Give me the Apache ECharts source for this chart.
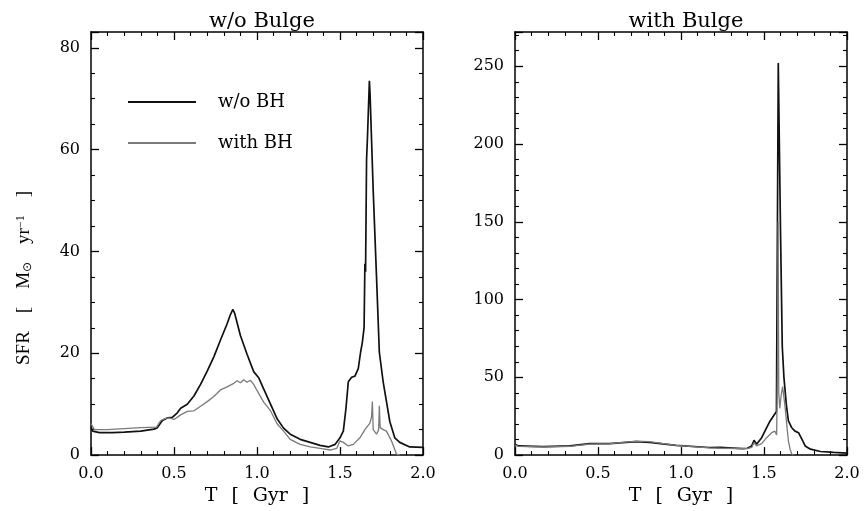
<!DOCTYPE html>
<html>
<head>
<meta charset="utf-8">
<script src="https://cdn.jsdelivr.net/npm/echarts@6/dist/echarts.min.js"></script>
<style>html,body{margin:0;padding:0;background:#fff}#c{width:866px;height:511px}</style>
</head>
<body>
<div id="c"></div>
<script>
// ---- Data ----
const panelTitles = ['w/o Bulge', 'with Bulge'];
const seriesNames = ['w/o BH', 'with BH'];
const xTicks = [0.0, 0.5, 1.0, 1.5, 2.0];

// Left panel, w/o BH (black)
const leftNoBH_T = [0.00,0.01,0.05,0.13,0.20,0.30,0.38,0.40,0.43,0.46,0.49,0.52,0.54,0.58,0.62,0.66,0.70,0.74,0.78,0.82,0.84,0.855,0.865,0.875,0.90,0.94,0.98,1.01,1.04,1.08,1.12,1.16,1.20,1.26,1.32,1.38,1.43,1.47,1.50,1.52,1.536,1.55,1.57,1.59,1.61,1.624,1.634,1.645,1.650,1.654,1.660,1.665,1.677,1.681,1.70,1.72,1.737,1.76,1.78,1.80,1.83,1.86,1.92,2.00];
const leftNoBH_V = [5.6,4.7,4.4,4.4,4.5,4.7,5.1,5.4,6.8,7.3,7.4,8.3,9.2,10.0,11.6,13.9,16.5,19.3,22.6,25.8,27.6,28.6,27.9,28.2,23.5,19.8,16.4,15.2,13.0,10.1,7.2,5.3,4.1,3.1,2.5,1.9,1.6,2.1,3.4,4.7,9.2,14.4,15.3,15.5,17.0,20.2,22.0,25.0,37.6,36.0,58.0,62.0,73.5,71.0,52.0,35.0,20.2,14.4,10.5,6.6,3.4,2.5,1.6,1.5];

// Left panel, with BH (grey)
const leftBH_T = [0.00,0.02,0.10,0.20,0.30,0.395,0.42,0.45,0.47,0.50,0.54,0.58,0.62,0.66,0.70,0.74,0.78,0.82,0.86,0.88,0.90,0.92,0.94,0.96,0.98,1.00,1.04,1.08,1.12,1.16,1.20,1.26,1.32,1.38,1.44,1.48,1.50,1.52,1.55,1.58,1.62,1.65,1.68,1.690,1.695,1.700,1.72,1.733,1.737,1.742,1.76,1.78,1.81,1.84,1.86];
const leftBH_V = [6.2,5.0,5.0,5.2,5.4,5.5,6.8,7.2,7.3,7.0,7.9,8.6,8.7,9.6,10.5,11.5,12.8,13.4,14.1,14.6,14.2,14.8,14.3,14.7,13.9,12.7,10.4,8.8,6.2,4.7,3.1,2.1,1.6,1.3,1.0,1.3,2.8,2.5,1.8,2.1,3.4,5.0,6.3,7.5,10.5,5.0,4.1,5.0,9.7,5.4,5.0,4.7,2.8,0.2,0.0];

// Right panel, w/o BH (black)
const rightNoBH_T = [0.00,0.02,0.17,0.33,0.45,0.57,0.73,0.81,0.97,1.17,1.235,1.37,1.40,1.426,1.44,1.455,1.486,1.516,1.536,1.562,1.575,1.586,1.600,1.610,1.620,1.635,1.647,1.667,1.687,1.708,1.728,1.748,1.78,1.84,1.92,2.00];
const rightNoBH_V = [7.0,5.9,5.5,5.9,7.4,7.4,8.7,8.2,6.3,4.9,5.0,4.2,4.4,5.9,9.5,7.0,11.2,17.6,21.8,26.0,28.0,252.0,140.0,70.0,50.0,32.0,22.0,17.6,15.4,14.4,10.2,5.9,3.8,2.3,1.7,1.3];

// Right panel, with BH (grey)
const rightBH_T = [0.00,0.02,0.17,0.33,0.45,0.57,0.73,0.81,0.97,1.17,1.235,1.40,1.426,1.44,1.455,1.486,1.516,1.546,1.566,1.576,1.582,1.585,1.589,1.595,1.603,1.612,1.626,1.637,1.647,1.657,1.667,1.675];
const rightBH_V = [6.5,5.6,5.2,5.6,7.0,7.4,9.0,8.6,6.2,4.7,4.4,4.2,4.9,8.0,5.9,7.4,11.2,14.4,15.4,12.9,60.0,150.0,40.0,30.0,38.0,44.0,32.0,19.7,9.1,3.8,0.8,0.0];

// ---- Build ----
const zip = (t, v) => t.map((x, i) => [x, v[i]]);
const FONT = '"DejaVu Serif", serif';
const BLACK = '#111111', GREY = '#7a7a7a';

const grids = [
  {left: 91, top: 32, width: 332, height: 429},
  {left: 515, top: 32, width: 332, height: 429}
];

function xAx(g, pos) {
  const main = pos === 'bottom';
  return {
    gridIndex: g, type: 'value', position: pos, min: 0, max: 2, interval: 0.5,
    axisLine: {onZero: false, lineStyle: {color: '#000', width: 1.5}},
    axisTick: {inside: true, length: 8, lineStyle: {color: '#000', width: 1.3}},
    minorTick: {show: true, splitNumber: 5, length: 4, lineStyle: {color: '#000', width: 1.1}},
    splitLine: {show: false},
    axisLabel: {show: main, margin: 11, fontFamily: FONT, fontSize: 16, color: '#000',
      formatter: v => (xTicks.indexOf(v) >= 0 ? v.toFixed(1) : '')},
    name: main ? '{a|T}{g| }{a|[}{g| }{a|Gyr}{g| }{a|]}' : '',
    nameLocation: 'middle', nameGap: 29,
    nameTextStyle: {rich: {
      a: {fontFamily: FONT, fontSize: 19, color: '#000'},
      g: {fontFamily: FONT, fontSize: 19, width: 14}
    }}
  };
}
function yAx(g, pos, max, interval, split) {
  const main = pos === 'left';
  return {
    gridIndex: g, type: 'value', position: pos, min: 0, max: max, interval: interval,
    axisLine: {onZero: false, lineStyle: {color: '#000', width: 1.5}},
    axisTick: {inside: true, length: 8, lineStyle: {color: '#000', width: 1.3}},
    minorTick: {show: true, splitNumber: split, length: 4, lineStyle: {color: '#000', width: 1.1}},
    splitLine: {show: false},
    axisLabel: {show: main, margin: 11, fontFamily: FONT, fontSize: 16, color: '#000',
      showMaxLabel: false, formatter: v => String(Math.round(v))}
  };
}

function line(name, data, xi, yi, color, width) {
  return {
    name: name, type: 'line', data: data, xAxisIndex: xi, yAxisIndex: yi,
    showSymbol: false, symbol: 'none', color: color,
    lineStyle: {color: color, width: width}, silent: true, z: color === GREY ? 3 : 2
  };
}

const option = {
  animation: false,
  backgroundColor: '#fff',
  title: [
    {text: panelTitles[0], left: 257, top: 6, textAlign: 'center',
     textStyle: {fontFamily: FONT, fontSize: 21, fontWeight: 'normal', color: '#000'}},
    {text: panelTitles[1], left: 681, top: 6, textAlign: 'center',
     textStyle: {fontFamily: FONT, fontSize: 21, fontWeight: 'normal', color: '#000'}}
  ],
  legend: {
    data: seriesNames, orient: 'vertical', left: 123, top: 87,
    icon: 'rect', itemWidth: 68, itemHeight: 2, itemGap: 21,
    selectedMode: false,
    textStyle: {fontFamily: FONT, fontSize: 18, color: '#000', padding: [0, 0, 0, 17], lineHeight: 20}
  },
  grid: grids,
  xAxis: [xAx(0, 'bottom'), xAx(0, 'top'), xAx(1, 'bottom'), xAx(1, 'top')],
  yAxis: [yAx(0, 'left', 83.1, 20, 4), yAx(0, 'right', 83.1, 20, 4),
          yAx(1, 'left', 272, 50, 5), yAx(1, 'right', 272, 50, 5)],
  series: [
    line(seriesNames[0], zip(leftNoBH_T, leftNoBH_V), 0, 0, BLACK, 1.7),
    line(seriesNames[1], zip(leftBH_T, leftBH_V), 0, 0, GREY, 1.3),
    line(seriesNames[0], zip(rightNoBH_T, rightNoBH_V), 2, 2, BLACK, 1.7),
    line(seriesNames[1], zip(rightBH_T, rightBH_V), 2, 2, GREY, 1.3)
  ],
  graphic: [{
    type: 'text', x: 24, y: 278, rotation: Math.PI / 2,
    style: {
      text: '{t|SFR}{g| }{t|[}{g| }{t|M}{o|⊙}{g| }{t|yr}{s|−1}{g| }{t|]}',
      align: 'center', verticalAlign: 'middle',
      rich: {
        t: {fontFamily: '"Liberation Serif", serif', fontSize: 19, fill: '#000', color: '#000'},
        g: {fontFamily: '"Liberation Serif", serif', fontSize: 19, width: 18},
        o: {fontFamily: '"DejaVu Sans", sans-serif', fontSize: 12, fill: '#000', color: '#000', verticalAlign: 'bottom'},
        s: {fontFamily: '"Liberation Serif", serif', fontSize: 12, fill: '#000', color: '#000', verticalAlign: 'top'}
      }
    }
  }]
};

const chart = echarts.init(document.getElementById('c'), null, {renderer: 'canvas'});
chart.setOption(option);
</script>
</body>
</html>
